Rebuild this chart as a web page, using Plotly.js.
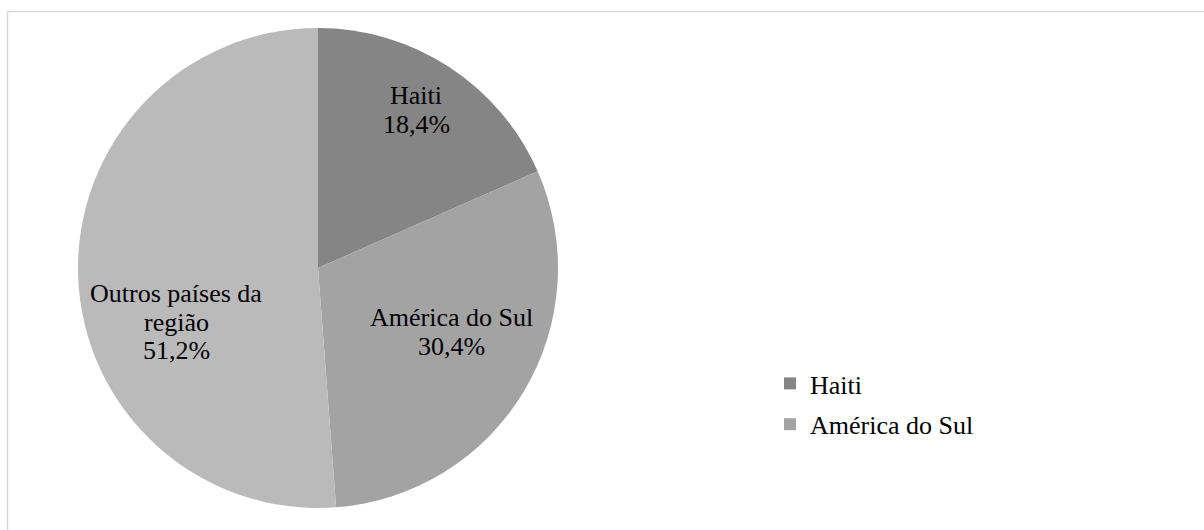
<!DOCTYPE html>
<html>
<head>
<meta charset="utf-8">
<script src="https://cdn.plot.ly/plotly-3.0.1.min.js"></script>
<style>
  html, body { margin: 0; padding: 0; background: #ffffff; }
  #chart { width: 1204px; height: 530px; }
</style>
</head>
<body>
<div id="chart"></div>
<script>
// ---- data ----
const labels = ["Haiti", "América do Sul", "Outros países da região"];
const sliceText = ["Haiti", "América do Sul", "Outros países da<br>região"];
const values = [18.4, 30.4, 51.2];
const legendLabels = ["Haiti", "América do Sul"];

// ---- styles ----
const colors = ["#858585", "#a3a3a3", "#bababa"];
const W = 1204, H = 530;
const FONT = "Liberation Serif";
const FS = 26;
const LINE = 28.5;
// label block centres (pixels) for the in-slice labels
const labelPos = [[416, 110], [451, 332], [176, 322]];

const total = values.reduce((a, b) => a + b, 0);
const pctText = values.map(v => (v / total * 100).toFixed(1).replace(".", ",") + "%");

const traces = [];
// Legend-only entries (drawn underneath the main pie, fully covered by it)
legendLabels.forEach((lab, i) => {
  traces.push({
    type: "pie",
    labels: [lab],
    values: [values[i]],
    marker: { colors: [colors[i]] },
    domain: { x: [420 / W, 421 / W], y: [1 - 101 / H, 1 - 100 / H] },
    textinfo: "none",
    hoverinfo: "skip",
    sort: false,
    showlegend: true,
    legendgroup: "g" + i
  });
});

// Main pie
traces.push({
  type: "pie",
  labels: labels,
  values: values,
  textinfo: "none",
  marker: { colors: colors, line: { width: 0 } },
  sort: false,
  direction: "clockwise",
  rotation: 0,
  domain: { x: [78 / W, 558 / W], y: [22 / H, 502 / H] },
  showlegend: false,
  hoverinfo: "label+percent"
});

const annotations = [];
sliceText.forEach((t, i) => {
  const lines = t.split("<br>").concat([pctText[i]]);
  const n = lines.length;
  lines.forEach((ln, k) => {
    annotations.push({
      xref: "paper", yref: "paper",
      x: labelPos[i][0] / W,
      y: 1 - (labelPos[i][1] + (k - (n - 1) / 2) * LINE) / H,
      xanchor: "center", yanchor: "middle",
      text: ln,
      showarrow: false,
      font: { family: FONT, size: FS, color: "#000000" }
    });
  });
});

const layout = {
  width: W,
  height: H,
  margin: { l: 0, r: 0, t: 0, b: 0 },
  paper_bgcolor: "#ffffff",
  font: { family: FONT, size: FS, color: "#000000" },
  showlegend: true,
  legend: {
    x: 770 / W,
    y: 1 - 360 / H,
    xanchor: "left",
    yanchor: "top",
    traceorder: "grouped",
    tracegroupgap: 4,
    font: { family: FONT, size: FS, color: "#000000" },
    bgcolor: "rgba(0,0,0,0)"
  },
  annotations: annotations,
  shapes: [{
    type: "rect",
    xref: "paper", yref: "paper",
    x0: 7.5 / W, x1: 1.02,
    y0: -0.02, y1: 1 - 11.5 / H,
    line: { color: "#d9d9d9", width: 1.5 },
    fillcolor: "rgba(0,0,0,0)",
    layer: "below"
  }]
};

Plotly.newPlot("chart", traces, layout, { displayModeBar: false });
</script>
</body>
</html>
